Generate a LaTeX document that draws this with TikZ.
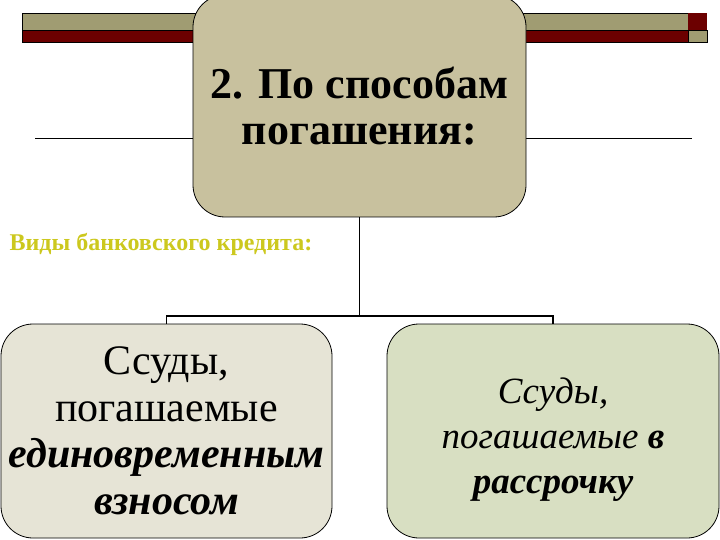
\documentclass[tikz,border=0pt]{standalone}
\usepackage{fontspec}
\setmainfont{Liberation Serif}
\usepackage{tikz}

\definecolor{barolive}{RGB}{160,156,114}
\definecolor{barred}{RGB}{108,0,0}
\definecolor{topfill}{RGB}{200,193,158}
\definecolor{lumpfill}{RGB}{230,228,214}
\definecolor{instalfill}{RGB}{216,223,194}
\definecolor{kindsyellow}{RGB}{204,200,30}

\begin{document}
\begin{tikzpicture}[x=1pt,y=-1pt,
    loanbox/.style={draw,
        rounded corners=32pt,
        line width=0.8pt,
        align=center,
        inner sep=0pt},
    link/.style={line width=1.9pt}]

\useasboundingbox (0,0) rectangle (720,540);
\clip (0,0) rectangle (720,540);

% template bars
\filldraw [fill=barolive, line width=0.6pt] (22,13) rectangle (688,30);
\filldraw [fill=barred, line width=0.6pt] (22,30) rectangle (688,42);
\fill [barred] (688,13) rectangle (707,30);
\filldraw [fill=barolive, line width=0.4pt] (688,30) rectangle (707,42);

\draw [line width=0.8pt] (35,138) -- (692,138);

\node [loanbox,
    fill=topfill,
    minimum width=333pt,
    minimum height=222pt,
    font=\bfseries\fontsize{44}{46}\selectfont] (top) at (359.5,106) {2. По способам\\погашения:};

\node [anchor=base west,
    text=kindsyellow,
    font=\bfseries\fontsize{24}{26}\selectfont] (kinds) at (6,250) {Виды банковского кредита:};

\node [loanbox,
    fill=lumpfill,
    minimum width=331pt,
    minimum height=214pt,
    font=\fontsize{42}{46.5}\selectfont] (lump) at (166.5,431) {Ссуды,\\погашаемые\\\textbf{\textit{единовременным}}\\\textbf{\textit{взносом}}};

\node [loanbox,
    fill=instalfill,
    minimum width=332pt,
    minimum height=214pt] (instal) at (553,431) {};

\node [align=center,
    font=\itshape\fontsize{37}{45}\selectfont] (instaltext) at (553,440) {Ссуды,\\погашаемые \textbf{в}\\\textbf{рассрочку}};

% connectors
\draw [link] (top.south) -- ++(0,99) coordinate (split);
\draw [link] (split) -| (lump.north);
\draw [link] (split) -| (instal.north);

\end{tikzpicture}
\end{document}
